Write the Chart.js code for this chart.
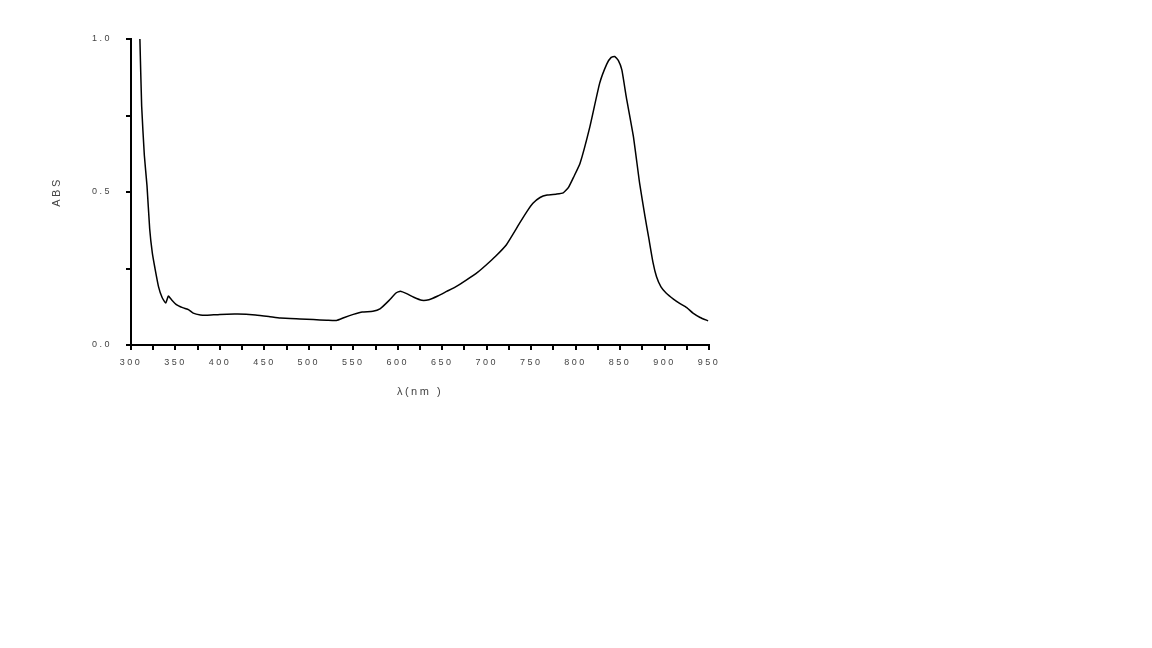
<!DOCTYPE html>
<html>
<head>
<meta charset="utf-8">
<script src="https://cdn.jsdelivr.net/npm/chart.js@4"></script>
<style>
  html, body { margin: 0; padding: 0; background: #fff; }
  canvas { display: block; }
</style>
</head>
<body>
<canvas id="absChart" width="1152" height="648"></canvas>
<script>
// Phổ hấp thụ
const wavelengths = [310, 312, 315, 318, 321, 324, 327, 331, 335, 339, 342, 345, 351, 358, 365, 370, 378, 385,
  400, 420, 440, 455, 468, 490, 505, 520, 531, 540, 550, 560, 572, 580, 590, 598, 603, 610, 618, 627, 635,
  645, 655, 665, 677, 690, 700, 710, 722, 737, 745, 752, 760, 768, 778, 786, 792, 798, 805, 816, 827, 835,
  840, 844, 848, 852, 857, 865, 872, 878, 882, 887, 891, 896, 902, 910, 917, 925, 932, 940, 949];
const absValues = [1.00, 0.78, 0.62, 0.52, 0.38, 0.30, 0.25, 0.19, 0.155, 0.137, 0.160, 0.150, 0.132, 0.122, 0.115, 0.104, 0.098, 0.097,
  0.100, 0.101, 0.098, 0.093, 0.088, 0.085, 0.083, 0.081, 0.080, 0.090, 0.100, 0.108, 0.110, 0.118, 0.145, 0.170, 0.176, 0.168, 0.156, 0.146, 0.148,
  0.160, 0.175, 0.190, 0.212, 0.238, 0.263, 0.290, 0.327, 0.398, 0.435, 0.463, 0.482, 0.490, 0.493, 0.497, 0.515, 0.550, 0.594, 0.713, 0.855, 0.918,
  0.940, 0.943, 0.930, 0.899, 0.810, 0.681, 0.528, 0.420, 0.354, 0.270, 0.223, 0.190, 0.169, 0.150, 0.136, 0.122, 0.104, 0.090, 0.079];
const xLabelStep = 50;
const yTickValues = [0, 0.5, 1.0];

const points = wavelengths.map((w, i) => ({ x: w, y: absValues[i] }));

// chữ giãn cách như ảnh gốc
const spacing = {
  id: 'spacing',
  beforeDraw(chart) { chart.ctx.letterSpacing = '2.5px'; }
};

const tickFont = { family: 'Liberation Sans', size: 9 };
const ctx = document.getElementById('absChart').getContext('2d');
new Chart(ctx, {
  type: 'line',
  data: {
    datasets: [{
      data: points,
      borderColor: '#000',
      borderWidth: 1.5,
      pointRadius: 0,
      tension: 0.15,
      fill: false
    }]
  },
  options: {
    responsive: false,
    animation: false,
    plugins: { legend: { display: false }, tooltip: { enabled: false } },
    layout: { padding: { left: 50, right: 443, top: 39, bottom: 249 } },
    scales: {
      x: {
        type: 'linear',
        min: 300,
        max: 950,
        afterFit(scale) { scale.height = 54; },
        border: { display: true, color: '#000', width: 2 },
        grid: { display: true, drawOnChartArea: false, color: '#000', lineWidth: 2, tickLength: 5 },
        ticks: {
          stepSize: 25,
          autoSkip: false,
          maxRotation: 0,
          padding: 7,
          color: '#444',
          font: tickFont,
          callback: v => (v % xLabelStep === 0 ? String(v) : '')
        },
        title: {
          display: true,
          text: 'λ(nm )',
          color: '#444',
          font: { family: 'Liberation Sans', size: 11 },
          padding: 0
        }
      },
      y: {
        min: 0,
        max: 1.0,
        afterFit(scale) { scale.width = 81; },
        border: { display: true, color: '#000', width: 2 },
        grid: { display: true, drawOnChartArea: false, color: '#000', lineWidth: 2, tickLength: 5 },
        ticks: {
          stepSize: 0.25,
          autoSkip: false,
          padding: 14,
          color: '#444',
          font: tickFont,
          callback: v => (yTickValues.some(t => Math.abs(t - v) < 1e-6) ? v.toFixed(1) : '')
        },
        title: {
          display: true,
          text: 'ABS',
          color: '#444',
          font: { family: 'Liberation Sans', size: 11 },
          padding: 0
        }
      }
    }
  },
  plugins: [spacing]
});
</script>
</body>
</html>
